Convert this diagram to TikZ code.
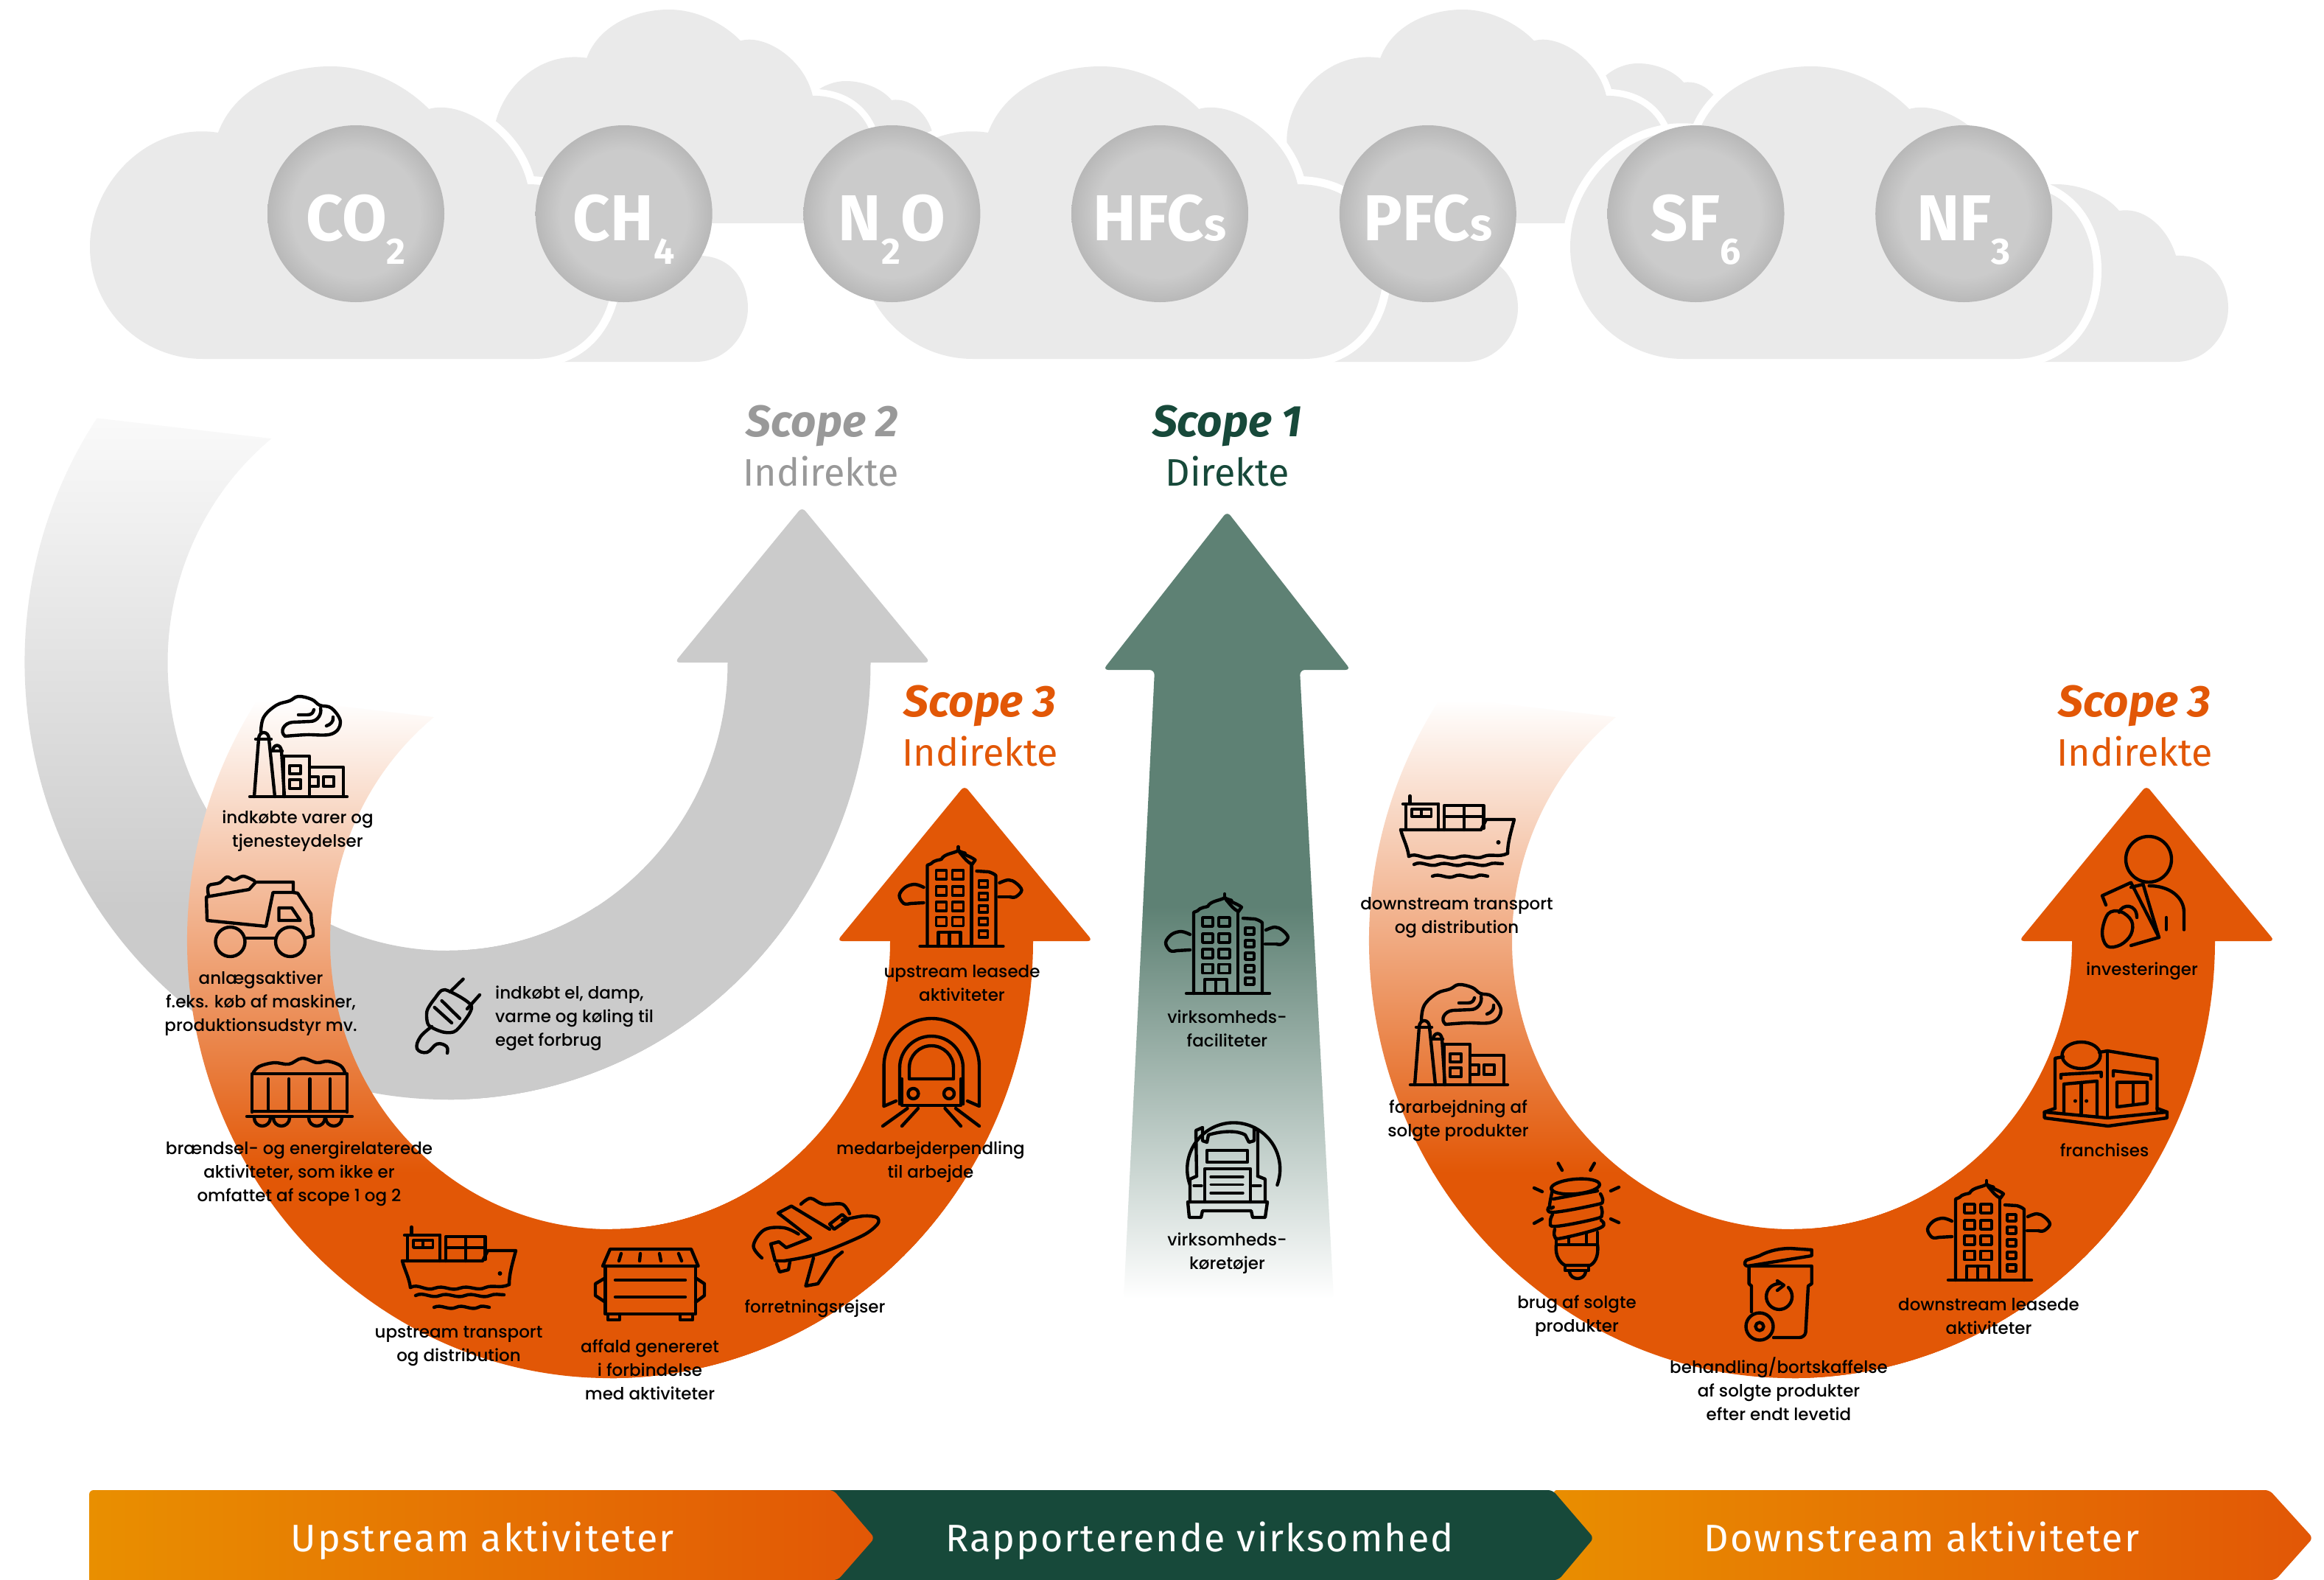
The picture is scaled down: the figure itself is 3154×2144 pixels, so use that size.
\documentclass[tikz,border=0pt]{standalone}
\usepackage{fontspec}
\setmainfont{Liberation Sans}
\newfontfamily\lblf{Poppins Medium}
\newfontfamily\headf{Fira Sans}
\newfontfamily\bannerf{Fira Sans}[LetterSpace=4]
\definecolor{cloudc}{HTML}{EAEAEA}
\definecolor{greyc}{HTML}{CBCBCB}
\definecolor{orng}{HTML}{E25706}
\definecolor{amber}{HTML}{E98F00}
\definecolor{dgreen}{HTML}{17493A}
\definecolor{mgreen}{HTML}{5E8174}
\definecolor{scopegrey}{HTML}{999999}
\definecolor{gasedge}{HTML}{B8B8B8}
\pgfdeclareradialshading{gasball}{\pgfpoint{0bp}{0bp}}{color(0bp)=(greyc); color(18bp)=(greyc); color(25bp)=(gasedge); color(50bp)=(gasedge)}
\newcommand{\frontcloud}{(275,487) .. controls (191,487) and (122,419) .. (122,335) .. controls (122,250) and (200,165) .. (296,180) .. controls (318,120) and (385,90) .. (449,90) .. controls (510,90) and (560,125) .. (582,148) .. controls (625,135) and (700,180) .. (716,250) .. controls (790,250) and (832,300) .. (832,367) .. controls (832,435) and (790,487) .. (725,487) -- cycle}
\newcommand{\smallcloud}{(700,491) -- (944,491) .. controls (985,491) and (1015,455) .. (1015,418) .. controls (1015,385) and (995,345) .. (944,347) .. controls (935,315) and (905,280) .. (867,286) .. controls (850,265) and (815,250) .. (781,250) .. controls (740,250) and (700,280) .. (690,320) -- cycle}
\newcommand{\carrowpath}[2]{(#1,#2) ++(146:574pt and 593pt) arc[start angle=146,end angle=360,x radius=574pt,y radius=593pt] -- ({#1+574},#2) [rounded corners=7pt] -- ({#1+655},#2) -- ({#1+481},{#2-211}) -- ({#1+308},#2) [sharp corners] -- ({#1+380},#2) arc[start angle=0,end angle=-231,x radius=380pt,y radius=391pt] -- cycle}
\newcommand{\carrow}[6]{% cx, cy, colour, fade top, fade bottom, name
  \begin{scope}
    \clip \carrowpath{#1}{#2};
    \fill[#3] (#1,#5) rectangle (3154,2144);
    \fill[#3] (0,#5) rectangle (3154,2144);
    \fill[#3] (#1,0) rectangle (3154,2144);
    \shade[top color=white,bottom color=#3] (0,#4) rectangle ({#1+1},{#5+1});
  \end{scope}}
\tikzset{
  icon/.style={draw=black,line width=4.4pt,line cap=round,line join=round,fill=none},
  lbl/.style={font=\lblf\fontsize{23}{32}\selectfont,align=center,inner sep=0pt,text=black},
  gas/.style={font=\headf\bfseries\fontsize{88}{88}\selectfont,text=white,anchor=base,inner sep=0pt},
  scopet/.style={font=\headf\bfseries\itshape\fontsize{60}{60}\selectfont,anchor=base,inner sep=0pt},
  scopes/.style={font=\headf\fontsize{52}{52}\selectfont,anchor=base,inner sep=0pt},
  bann/.style={font=\bannerf\fontsize{52}{52}\selectfont,text=white,anchor=base,inner sep=0pt},
  factory/.pic={
    \draw[icon] (-66,0)--(66,0);
    \draw[icon] (-60,0)--(-54,-78) .. controls (-54,-90) and (-40,-90) .. (-40,-78) -- (-32,0);
    \draw[icon] (-58,-78)--(-37,-78);
    \draw[icon] (-36,-62)--(-22,-62);
    \draw[icon] (-35,-62) .. controls (-34,-72) and (-24,-72) .. (-23,-62) -- (-19,0);
    \draw[icon] (-20,0)--(-20,-55)--(15,-55)--(15,0);
    \draw[icon] (-12,-31) rectangle (3,-42);
    \draw[icon] (-12,-11) rectangle (3,-23);
    \draw[icon] (15,-40)--(61,-40)--(61,0);
    \draw[icon] (17,-14)--(27,-14)--(27,-27)--(17,-27);
    \draw[icon] (34,-14) rectangle (48,-27);
    \draw[icon] plot[smooth,tension=.65] coordinates {(-51,-88) (-47,-108) (-30,-124) (-12,-130) (0,-136) (18,-132) (29,-124) (45,-120) (57,-101) (45,-85) (10,-84) (-18,-82)};
    \draw[icon] (-18,-82) .. controls (-26,-88) and (-20,-100) .. (-8,-101) -- (16,-102) .. controls (26,-102) and (32,-112) .. (30,-120);
    \draw[icon] (0,-111) -- (12,-111) .. controls (18,-111) and (20,-114) .. (21,-118);
    \draw[icon] (38,-96) .. controls (44,-98) and (48,-102) .. (47,-108);
  },
  building/.pic={
    \draw[icon] (-57,0)--(56,0);
    \draw[icon] (-47,0)--(-47,-110) -- (-42,-112) .. controls (-38,-117) and (-30,-117) .. (-28,-118) .. controls (-24,-126) and (-10,-126) .. (-5,-130) .. controls (0,-126) and (12,-126) .. (-2,-126);
    \draw[icon] (-5,-130) .. controls (2,-124) and (12,-122) .. (18,-117) -- (13,-110) ;
    \draw[icon] (13,-112) .. controls (8,-112) and (-5,-130) .. (-5,-130);
    \draw[icon] (-5,-130)--(-5,-135);
    \draw[icon] (13,-110)--(13,0);
    \foreach \yy in {-103,-81,-60,-39.5}{
      \draw[icon,line width=3.6pt] (-35,\yy) rectangle ++(14,12);
      \draw[icon,line width=3.6pt] (-13,\yy) rectangle ++(15,12);
    }
    \draw[icon] (-32,0)--(-32,-19)--(-2,-19)--(-2,0);
    \draw[icon] (-17,-19)--(-17,0);
    \draw[icon] (20,-102) -- (36,-101) .. controls (40,-100) and (44,-98) .. (46,-96) -- (46,0);
    \foreach \yy in {-89,-72,-55,-38,-21}{
      \draw[icon,line width=3.6pt] (23,\yy) rectangle ++(12,9);
    }
    \draw[icon] plot[smooth,tension=.6] coordinates {(-52,-80) (-64,-84) (-77,-80) (-85,-69)(-79,-58) (-70,-58)};
    \draw[icon] (-70,-58)--(-52,-59);
    \draw[icon] plot[smooth,tension=.6] coordinates {(51,-86) (63,-90) (73,-86) (81,-76) (73,-67) (65,-67)};
    \draw[icon] (65,-67)--(50,-67);
  },
  shipicon/.pic={
    \draw[icon] (-77,0) .. controls (-74,12) and (-68,22) .. (-66,36);
    \draw[icon] (-77,0) -- (32,0) -- (39,-14) -- (77,-14) .. controls (72,5) and (68,18) .. (68,32);
    \draw[icon] (-66,36) .. controls (-55,30) and (-45,42) .. (-33,37) .. controls (-20,32) and (-12,42) .. (1,37) .. controls (14,32) and (24,42) .. (36,36) .. controls (46,32) and (56,38) .. (68,32);
    \draw[icon] (-59,47) .. controls (-48,41) and (-38,52) .. (-26,47) .. controls (-14,42) and (-4,52) .. (8,47) .. controls (20,42) and (30,52) .. (42,47) .. controls (48,44) and (55,46) .. (61,46);
    \draw[icon] (-34,63) .. controls (-24,58) and (-14,68) .. (-4,63) .. controls (6,58) and (16,68) .. (26,63) .. controls (30,60) and (36,62) .. (41,63);
    \draw[icon] (-70,0)--(-70,-35);
    \draw[icon] (-26,0)--(-26,-35);
    \draw[icon] (-74,-35)--(-26,-35);
    \draw[icon] (-64.5,-35)--(-64.5,-46);
    \draw[icon,line width=3.4pt] (-62,-28) rectangle (-35.5,-18);
    \draw[icon,line width=3.4pt] (-49,-28)--(-49,-18);
    \draw[icon] (-18,0)--(-18,-33)--(35.5,-33)--(35.5,-2);
    \draw[icon] (9,-33)--(9,0);
    \draw[icon] (-18,-18)--(35.5,-18);
    \fill (55.5,17) circle[radius=3pt];
  },
  binicon/.pic={}
}
\begin{document}
\begin{tikzpicture}[x=1pt,y=-1pt]
\useasboundingbox (0,0) rectangle (3154,2144);
\fill[white] (0,0) rectangle (3154,2144);

%% clouds
\begin{scope}[shift={(585.7,-70)},scale=.72]\fill[cloudc] \smallcloud;\end{scope}
\begin{scope}[shift={(1660.7,-94)},scale=.72]\fill[cloudc] \smallcloud;\end{scope}
\begin{scope}[shift={(580.2,-52.7)},scale=.73]\path[fill=cloudc,preaction={draw=white,line width=18pt}] \frontcloud;\end{scope}
\begin{scope}[shift={(1657.2,-52.7)},scale=.73]\path[fill=cloudc,preaction={draw=white,line width=18pt}] \frontcloud;\end{scope}
\fill[cloudc] \smallcloud;
\begin{scope}[shift={(1045,0)}]\fill[cloudc] \smallcloud;\end{scope}
\begin{scope}[shift={(2009,0)}]\fill[cloudc] \smallcloud;\end{scope}
\path[fill=cloudc,preaction={draw=white,line width=22pt}] \frontcloud;
\begin{scope}[shift={(1045,0)}]\path[fill=cloudc,preaction={draw=white,line width=22pt}] \frontcloud;\end{scope}
\begin{scope}[shift={(2009,0)}]\path[fill=cloudc,preaction={draw=white,line width=22pt}] \frontcloud;\end{scope}

%% gas balls
\foreach \cx in {483,846.7,1210.4,1574.1,1937.8,2301.5,2665.2}{
  \shade[shading=gasball] (\cx,290) circle[radius=120pt];
}
\newcommand{\subg}[1]{\raisebox{-32pt}{\fontsize{50}{50}\selectfont #1}}
\node[gas] (gas1) at (483,326) {CO\subg{2}};
\node[gas] (gas2) at (846.7,326) {CH\subg{4}};
\node[gas] (gas3) at (1210.4,326) {N\subg{2}O};
\node[gas] (gas4) at (1574.1,326) {HFC{\fontsize{62}{62}\selectfont s}};
\node[gas] (gas5) at (1937.8,326) {PFC{\fontsize{62}{62}\selectfont s}};
\node[gas] (gas6) at (2301.5,326) {SF\subg{6}};
\node[gas] (gas7) at (2665.2,326) {NF\subg{3}};

%% arrows
\carrow{607.5}{899}{greyc}{488}{1230}{a}
\carrow{828}{1277}{orng}{950}{1590}{b}
\carrow{2432}{1277}{orng}{950}{1590}{c}
\begin{scope}
  \clip[rounded corners=7pt] (1525,1762) -- (1567,909) -- (1497,909) -- (1665.5,694) -- (1833,909) -- (1764,909) -- (1810,1762) -- cycle;
  \fill[mgreen] (1450,680) rectangle (1880,1231);
  \shade[top color=mgreen,bottom color=white] (1450,1230) rectangle (1880,1762);
\end{scope}

%% scope titles
\node[scopet,text=scopegrey] (s2) at (1116,592) {Scope 2};
\node[scopes,text=scopegrey] (s2b) at (1114,659) {Indirekte};
\node[scopet,text=dgreen] (s1) at (1665.5,592) {Scope 1};
\node[scopes,text=dgreen] (s1b) at (1665.5,659) {Direkte};
\node[scopet,text=orng] (s3a) at (1330,972) {Scope 3};
\node[scopes,text=orng] (s3ab) at (1330,1039) {Indirekte};
\node[scopet,text=orng] (s3b) at (2897,972) {Scope 3};
\node[scopes,text=orng] (s3bb) at (2897,1039) {Indirekte};

%% icons left
\pic at (405,1081) {factory};
% dump truck
\draw[icon] (312.5,1278) circle[radius=20pt];
\draw[icon] (394,1278) circle[radius=20pt];
\draw[icon] (280,1217)--(338,1207)--(347,1197)--(398,1197)--(398,1211)--(370.5,1211)--(361,1257)--(281,1249)--cycle;
\draw[icon] plot[smooth,tension=.6] coordinates {(283,1215) (283,1202) (298,1198) (308,1190) (318,1194) (330,1189) (345,1195)};
\draw[icon] (398,1211)--(404,1212)--(422,1240)--(423,1254)--(425,1261)--(425,1270)--(414,1273);
\draw[icon] (378.5,1232)--(396,1232)--(407.5,1249)--(378.5,1249)--cycle;
\draw[icon] (334,1273)--(374,1273);
% coal wagon
\draw[icon] (342,1509)--(342,1457)--(471,1457)--(471,1509);
\draw[icon] (335,1515)--(478,1515);
\draw[icon] (342,1508)--(471,1508);
\foreach \xx in {364,392,420.5,448}{\draw[icon] (\xx,1464)--(\xx,1508);}
\draw[icon] plot[smooth,tension=.6] coordinates {(344,1455) (352,1447) (372,1442) (392,1444) (410,1436) (430,1442) (445,1440) (462,1446) (468,1455)};
\foreach \xx in {356,382,430,453}{\draw[icon] (\xx-11,1517) arc[start angle=180,end angle=360,radius=11pt];}
\pic at (623,1711) {shipicon};
% dumpster
\draw[icon] (828,1695)--(938,1695)--(947.6,1718)--(818,1718)--cycle;
\draw[icon] (821.6,1718)--(821.6,1783)--(944,1783)--(944,1718);
\draw[icon] (835,1737)--(930,1737);
\draw[icon] (835,1760)--(930,1760);
\draw[icon] (821.6,1734)--(808,1742)--(808,1758)--(821.6,1767);
\draw[icon] (944,1734)--(956,1742)--(956,1758)--(944,1767);
\draw[icon] (825,1783)--(825,1791)--(841,1791)--(841,1783);
\draw[icon] (923,1783)--(923,1791)--(940,1791)--(940,1783);
\foreach \xa/\xb in {843/840,869/868,895/897,921/925}{\draw[icon] (\xa,1701)--(\xb,1711);}
% plane
\draw[icon] plot[smooth,tension=.5] coordinates {(1143,1655.5) (1172,1650) (1190,1652) (1191,1661) (1170,1677) (1110,1701.6) (1064,1711)};
\draw[icon] (1064,1711)--(1052,1711)--(1046,1688)--(1057,1685)--(1067,1693)--(1100,1680)--(1056,1646)--(1074,1636.6)--(1126,1668);
\draw[icon] (1126,1661)--(1143,1648)--(1151,1655)--(1132,1668)--cycle;
\draw[icon] (1104,1707)--(1093.5,1745)--(1110,1742)--(1133,1707)--(1143,1699);
\draw[icon] (1054,1715)--(1058,1726)--(1070,1723)--(1072,1712);
\draw[icon] plot[smooth,tension=.6] coordinates {(1087,1634) (1100,1626) (1117,1634) (1143,1634) (1153,1647)};
\draw[icon] plot[smooth,tension=.6] coordinates {(1083.6,1674.5) (1063.6,1666) (1037,1669) (1022.5,1690.6) (1034,1707)};
% tunnel train
\draw[icon] (1199.6,1501)--(1199.6,1447) arc[start angle=180,end angle=0,x radius=64.7pt,y radius=65pt] --(1329,1501)--(1313,1494);
\draw[icon] (1199.6,1501)--(1216,1494);
\draw[icon] (1221,1498)--(1221,1449) arc[start angle=180,end angle=0,x radius=43pt,y radius=43pt] --(1307,1498);
\draw[icon] (1234,1464)--(1234,1449) arc[start angle=180,end angle=0,x radius=30pt,y radius=30pt]--(1294,1464)--cycle;
\draw[icon] (1224,1464)--(1224,1500)--(1304,1500)--(1304,1464);
\draw[icon] (1239.4,1484) circle[radius=7pt];
\draw[icon] (1288,1484) circle[radius=7pt];
\draw[icon] (1231.5,1504)--(1198,1528);
\draw[icon] (1246,1504)--(1224,1528);
\draw[icon] (1282.5,1504)--(1304,1528);
\draw[icon] (1297,1504)--(1329,1528);
% plug
\draw[icon] (610.7,1346)--(628.6,1328.6);
\draw[icon] (634,1369)--(651,1350);
\draw[icon] plot[smooth cycle,tension=.45] coordinates {(604,1343) (590,1355) (579.5,1372) (581.7,1391) (602,1400.6) (619.6,1398) (640,1365.6)};
\draw[icon] (599.6,1358)--(624,1382);
\draw[icon] (589.7,1367)--(613,1388);
\draw[icon] plot[smooth,tension=.7] coordinates {(586,1393) (570.5,1407) (566,1423) (579.5,1428) (593,1416.6) (606,1420) (607,1429)};

\pic at (1305.5,1284) {building};

%% centre icons
\pic at (1667,1348) {building};
\draw[icon] (1615,1608) arc[start angle=200,end angle=-20,radius=63pt];
\draw[icon] (1624,1596)--(1623,1534)--(1632,1530)--(1632,1548)--(1638,1550)--(1640,1540) .. controls (1660,1534) and (1680,1534) .. (1690,1540) --(1695,1550)--(1702,1548)--(1702,1530)--(1707,1534)--(1707,1596);
\draw[icon] (1624,1596)--(1615,1600)--(1615,1631);
\draw[icon] (1707,1596)--(1717,1600)--(1717,1631);
\draw[icon] (1612,1631)--(1720,1631)--(1717,1652)--(1700,1652)--(1698,1643)--(1632,1643)--(1630,1652)--(1614,1652)--cycle;
\draw[icon] (1638,1561) rectangle (1693,1577);
\draw[icon] (1635,1631)--(1635,1586)--(1697,1586)--(1697,1631);
\foreach \yy in {1597,1607.7,1619}{\draw[icon,line width=3.4pt] (1643,\yy)--(1687,\yy);}
\draw[icon,line width=3.4pt] (1620,1609)--(1631,1609);
\draw[icon,line width=3.4pt] (1700,1609)--(1711,1609);

%% right icons
\pic at (1978,1126) {shipicon};
\pic at (1980,1472) {factory};
% bulb
\foreach \xa/\ya/\xb/\yb in {2114.6/1578.5/2120/1588,2163.8/1578.5/2158.4/1588,2082/1612/2093/1617,2197/1611/2186/1616,2082/1660/2093/1654,2197/1659/2186/1654}{\draw[icon] (\xa,\ya)--(\xb,\yb);}
\draw[icon] (2138,1610) ellipse[x radius=33pt,y radius=10pt,rotate=5];
\draw[icon] plot[smooth,tension=.8] coordinates {(2107,1615) (2103,1637) (2108,1638)};
\draw[icon] (2108,1627)--(2168,1616);
\draw[icon] plot[smooth,tension=.7] coordinates {(2172,1620) (2175,1630) (2165,1635) (2108,1645) (2102,1638)};
\draw[icon] plot[smooth,tension=.7] coordinates {(2107,1648) (2104,1658) (2112,1664) (2165,1654) (2174,1648) (2173,1638)};
\draw[icon] plot[smooth,tension=.7] coordinates {(2173,1656) (2172,1666) (2120,1680) (2110,1678) (2110,1668)};
\draw[icon] (2112,1680)--(2112,1689)--(2168,1689)--(2168,1672);
\draw[icon] (2129,1686)--(2129,1678);
\draw[icon] (2153,1686)--(2153,1674);
\draw[icon] (2112,1689) .. controls (2110,1705) and (2118,1714) .. (2124,1717) -- (2158,1717) .. controls (2164,1714) and (2170,1705) .. (2168,1689);
\draw[icon] (2124,1717)--(2124,1724)--(2156,1724)--(2156,1717);
\draw[icon] (2130,1726) .. controls (2132,1738) and (2150,1738) .. (2152,1726);
% bin
\draw[icon] (2372,1718)--(2458.7,1704)--(2458.7,1696)--(2430,1694) .. controls (2410,1694) and (2395,1700) .. (2388,1704) -- (2370,1710) .. controls (2366,1714) and (2368,1718) .. (2372,1718);
\draw[icon] (2373.6,1718)--(2373.6,1742)--(2377,1745)--(2377,1780);
\draw[icon] (2373.6,1718)--(2458.7,1718)--(2458.7,1742)--(2454,1745)--(2450.5,1808) .. controls (2450,1812) and (2446,1815) .. (2442,1815)--(2407,1815);
\draw[icon] (2388,1800) circle[radius=18.5pt];
\draw[icon] (2388,1800) circle[radius=5.5pt];
\draw[icon] (2427,1747) arc[start angle=45,end angle=-270,radius=17.5pt];
\draw[icon] (2412,1738)--(2421,1744)--(2412,1751);
% building
\pic at (2701,1737) {building};
% store
\draw[icon] (2789,1504)--(2789,1436)--(2800,1434);
\draw[icon] (2849,1428)--(2860,1426)--(2927.5,1437)--(2927.5,1506);
\draw[icon] (2860,1426)--(2860,1514.6);
\draw[icon] (2824.5,1432) ellipse[x radius=26pt,y radius=18pt];
\draw[icon] (2789,1504)--(2774.6,1509)--(2774.6,1517)--(2861,1528)--(2941,1517)--(2941,1509)--(2927.5,1504);
\draw[icon] (2774.6,1509)--(2860,1517)--(2941,1509);
\draw[icon] (2797,1463)--(2797,1458)--(2851.6,1455)--(2851.6,1461);
\draw[icon] (2868,1460)--(2868,1453)--(2919,1459)--(2919,1464);
\draw[icon] (2801,1509)--(2801,1471)--(2846,1467)--(2846,1514);
\draw[icon] (2824.5,1469)--(2824.5,1511);
\fill (2816.4,1494) circle[radius=2.5pt];
\fill (2831.6,1494) circle[radius=2.5pt];
\draw[icon] (2873,1468.6)--(2914,1468.6)--(2914,1497)--(2873,1502)--cycle;
\draw[icon] (2895,1469)--(2895,1499);
% investor
\draw[icon] (2916,1166) circle[radius=31pt];
\draw[icon] (2916.7,1202) .. controls (2945,1202) and (2964,1218) .. (2964,1238)--(2964,1261.5);
\draw[icon] (2940,1245)--(2940,1261.5);
\draw[icon] (2858,1228)--(2853,1215.4)--(2892,1197.6)--(2930,1272)--(2892,1283);
\draw[icon] (2892,1204)--(2908.5,1200)--(2930,1272);
\draw[icon] (2876,1238) .. controls (2880,1226) and (2900,1226) .. (2900,1245);
\draw[icon] plot[smooth cycle,tension=.6] coordinates {(2861,1240) (2878,1237) (2893,1250) (2892,1268) (2878,1282) (2860,1284) (2853,1265)};

%% labels
\node[lbl] (l1) at (404,1128) {indkøbte varer og\\tjenesteydelser};
\node[lbl] (l2) at (354,1362) {anlægsaktiver\\f.eks. køb af maskiner,\\produktionsudstyr mv.};
\node[lbl] (l3) at (406,1593) {brændsel- og energirelaterede\\aktiviteter, som ikke er\\omfattet af scope 1 og 2};
\node[lbl] (l4) at (622.5,1826.5) {upstream transport\\og distribution};
\node[lbl] (l5) at (882,1859) {affald genereret\\i forbindelse\\med aktiviteter};
\node[lbl] (l6) at (1106,1776) {forretningsrejser};
\node[lbl] (l7) at (1263,1577) {medarbejderpendling\\til arbejde};
\node[lbl] (l8) at (1305.5,1334) {upstream leasede\\aktiviteter};
\node[lbl,align=left,anchor=west] (l9) at (672,1382) {indkøbt el, damp,\\varme og køling til\\eget forbrug};
\node[lbl] (l10) at (1665.5,1396) {virksomheds-\\faciliteter};
\node[lbl] (l11) at (1665.5,1701) {virksomheds-\\køretøjer};
\node[lbl] (l12) at (1977,1245) {downstream transport\\og distribution};
\node[lbl] (l13) at (1979,1521) {forarbejdning af\\solgte produkter};
\node[lbl] (l14) at (2140,1786) {brug af solgte\\produkter};
\node[lbl] (l15) at (2414,1885) {behandling/bortskaffelse\\af solgte produkter\\efter endt levetid};
\node[lbl] (l16) at (2699,1786) {downstream leasede\\aktiviteter};
\node[lbl] (l17) at (2856,1561) {franchises};
\node[lbl] (l18) at (2907,1317.5) {investeringer};

%% banner
\shade[left color=amber,right color=orng,rounded corners=6pt] (2080,2144) -- (2140,2087) -- (2107,2022) -- (3080,2022) -- (3139,2087) -- (3088,2144) [sharp corners] -- cycle;
\path[fill=dgreen,rounded corners=6pt] (1120,2144) -- (1120,2022) -- (2107,2022) -- (2163,2087) -- (2115,2144) [sharp corners] -- cycle;
\shade[left color=amber,right color=orng,rounded corners=6pt] (121,2144) -- (121,2022) -- (1131,2022) -- (1187,2087) -- (1137,2144) [sharp corners] -- cycle;
\node[bann] (b1) at (655,2105) {Upstream aktiviteter};
\node[bann] (b2) at (1628,2105) {Rapporterende virksomhed};
\node[bann] (b3) at (2608,2105) {Downstream aktiviteter};
\end{tikzpicture}
\end{document}
